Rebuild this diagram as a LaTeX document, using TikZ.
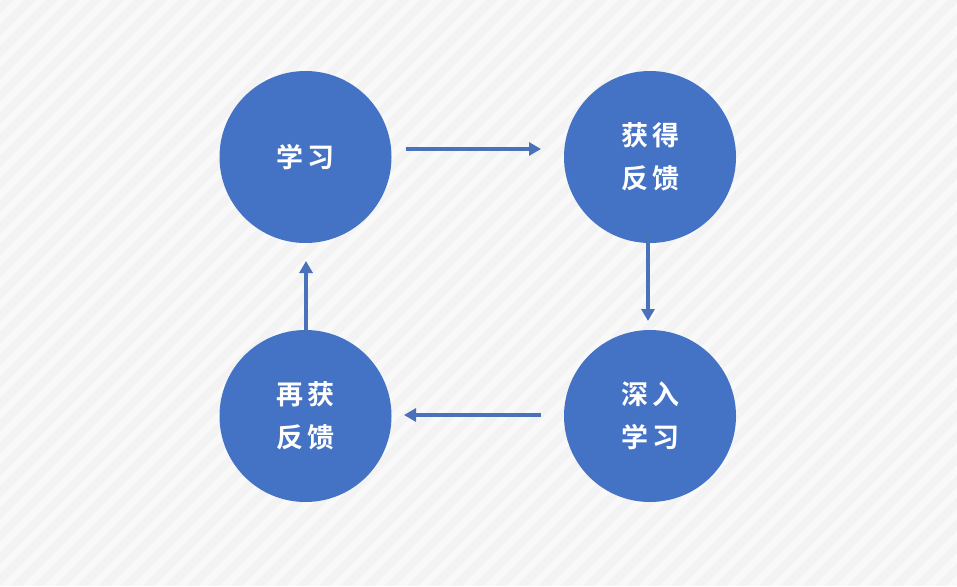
\documentclass[tikz,border=0pt]{standalone}
\usepackage{fontspec}
\newfontfamily\cjk{Noto Sans CJK SC}[BoldFont={Noto Sans CJK SC Bold}]
\usetikzlibrary{arrows.meta}
\definecolor{circ}{HTML}{4472C4}
\definecolor{arrc}{HTML}{4A72BA}
\definecolor{bga}{HTML}{F3F3F3}
\definecolor{bgb}{HTML}{F9F9F9}
\newcommand{\gap}{\kern4pt}
\begin{document}
\begin{tikzpicture}[x=1pt,y=-1pt,
  bubble/.style={circle,fill=circ,minimum size=172pt,inner sep=0pt,text=white,
    font=\cjk\bfseries\fontsize{27}{43}\selectfont,align=center},
  arr/.style={draw=arrc,line width=3.5pt,-{Triangle[length=12pt,width=13pt]}}]
\useasboundingbox (0,0) rectangle (957,586);
\fill[bga] (0,0) rectangle (957,586);
\begin{scope}
\clip (0,0) rectangle (957,586);
\foreach \i in {-30,...,50} {
  \fill[bgb] (\i*22,586) -- (\i*22+10,586) -- (\i*22+10+586,0) -- (\i*22+586,0) -- cycle;
}
\end{scope}
\node[bubble] (tl) at (305.5,157) {学\gap 习};
\node[bubble] (tr) at (650,157) {获\gap 得\\反\gap 馈};
\node[bubble] (br) at (650,416) {深\gap 入\\学\gap 习};
\node[bubble] (bl) at (305.5,416) {再\gap 获\\反\gap 馈};
\draw[arr] ([xshift=14pt]tl.east |- 0,149) coordinate (a1) -- (a1 -| 541,0);
\draw[arr] ([yshift=9pt]tr.south -| 648,0) coordinate (a2) -- (a2 |- 0,321);
\draw[arr] ([xshift=-23pt]br.west |- 0,415) coordinate (a3) -- (a3 -| 404,0);
\draw[arr] ([yshift=-7pt]bl.north -| 306,0) coordinate (a4) -- (a4 |- 0,261);
\end{tikzpicture}
\end{document}
